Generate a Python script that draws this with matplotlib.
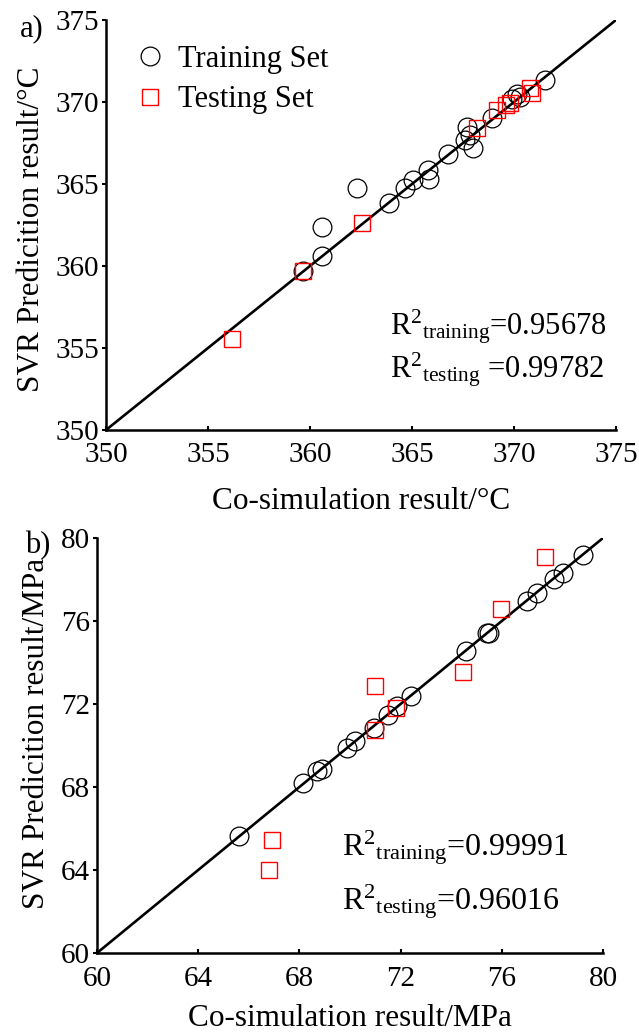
import matplotlib
matplotlib.use("Agg")
from matplotlib import pyplot as plt

plt.rcParams['font.family'] = ['Liberation Serif', 'DejaVu Serif']
plt.rcParams['mathtext.fontset'] = 'custom'
plt.rcParams['mathtext.rm'] = 'Liberation Serif'
plt.rcParams['mathtext.it'] = 'Liberation Serif:italic'

# a) temperature, training set
temp_train_x = [359.64, 360.59, 360.59, 362.29, 363.85, 364.66, 365.07, 365.80, 365.85, 366.75,
                367.68, 367.60, 367.97, 367.84, 368.90, 369.90, 370.13, 370.30, 371.52]
temp_train_y = [359.71, 360.61, 362.40, 364.74, 363.82, 364.74, 365.24, 365.85, 365.28, 366.80,
                368.50, 367.68, 367.17, 367.99, 369.00, 370.20, 370.50, 370.30, 371.34]
# a) temperature, testing set
temp_test_x = [356.19, 359.67, 362.53, 368.20, 369.15, 369.60, 369.80, 370.80, 370.90]
temp_test_y = [355.57, 359.70, 362.60, 368.40, 369.50, 369.80, 369.95, 370.85, 370.55]

# b) stress, training set
stress_train_x = [65.6, 68.16, 68.7, 68.9, 69.9, 70.2, 70.95, 71.5, 71.84, 72.4,
                  74.6, 75.4, 75.5, 77.0, 77.4, 78.05, 78.4, 79.2]
stress_train_y = [65.62, 68.2, 68.76, 68.87, 69.9, 70.2, 70.84, 71.49, 71.9, 72.37,
                  74.54, 75.4, 75.42, 76.95, 77.35, 78.02, 78.3, 79.16]
# b) stress, testing set
stress_test_x = [66.93, 66.8, 71.0, 71.8, 70.97, 74.46, 75.95, 77.7]
stress_test_y = [65.43, 63.98, 72.88, 71.8, 70.76, 73.53, 76.58, 79.1]

temp_ticks = [350, 355, 360, 365, 370, 375]
stress_ticks = [60, 64, 68, 72, 76, 80]

W, H = 639, 1033
fig = plt.figure(figsize=(W / 100, H / 100), dpi=100)


def px_axes(left, right, top, bottom):
    return fig.add_axes([left / W, 1 - bottom / H, (right - left) / W, (bottom - top) / H])


def style(ax, ticks, xpad):
    lo, hi = ticks[0], ticks[-1]
    ax.plot([lo, hi], [lo, hi], color='black', lw=1.9, zorder=1)
    ax.set_xlim(lo, hi)
    ax.set_ylim(lo, hi)
    ax.set_xticks(ticks)
    ax.set_yticks(ticks)
    for s in ['top', 'right']:
        ax.spines[s].set_visible(False)
    for s in ['left', 'bottom']:
        ax.spines[s].set_linewidth(1.8)
    ax.tick_params(axis='x', direction='in', length=3, width=1.5, labelsize=21, pad=xpad)
    ax.tick_params(axis='y', direction='out', length=3, width=1.5, labelsize=21, pad=2)
    for lab in ax.get_xticklabels() + ax.get_yticklabels():
        lab.set_clip_on(False)


circle = dict(marker='o', ms=13.5, mfc='none', mec='black', mew=0.9, ls='none')
square = dict(marker='s', ms=12, mfc='none', mec='red', mew=1.0, ls='none')

# ---- a) ----
ax1 = px_axes(106, 616, 20, 430)
style(ax1, temp_ticks, 9)
ax1.plot(temp_train_x, temp_train_y, label='Training Set', zorder=2, **circle)
ax1.plot(temp_test_x, temp_test_y, label='Testing Set', zorder=3, **square)
ax1.legend(loc='upper left', bbox_to_anchor=(0.056, 0.94), frameon=False, fontsize=22,
           borderpad=0, borderaxespad=0, handlelength=1.0, handletextpad=0.42,
           labelspacing=0.38, numpoints=1)
ax1.set_xlabel('Co-simulation result/°C', fontsize=22.5)
ax1.set_ylabel('SVR Predicition result/°C', fontsize=22.5)
ax1.xaxis.set_label_coords(0.5, -0.14)
ax1.yaxis.set_label_coords(-0.118, 0.49)
ax1.text(0.557, 0.232, r'R$^{2}$$_{\mathrm{training}}$=0.95678', transform=ax1.transAxes,
         fontsize=22, va='baseline')
ax1.text(0.557, 0.127, r'R$^{2}$$_{\mathrm{testing}}$ =0.99782', transform=ax1.transAxes,
         fontsize=22, va='baseline')
fig.text(20 / W, 1 - 36 / H, 'a)', fontsize=22, va='baseline')

# ---- b) ----
ax2 = px_axes(97, 603, 538, 953)
style(ax2, stress_ticks, 9)
ax2.plot(stress_train_x, stress_train_y, zorder=2, **circle)
ax2.plot(stress_test_x, stress_test_y, zorder=3, **square)
ax2.set_xlabel('Co-simulation result/MPa', fontsize=22.5)
ax2.set_ylabel('SVR Predicition result/MPa', fontsize=22.5)
ax2.xaxis.set_label_coords(0.5, -0.124)
ax2.yaxis.set_label_coords(-0.09, 0.53)
ax2.text(0.484, 0.236, r'R$^{2}$$_{\mathrm{training}}$=0.99991', transform=ax2.transAxes,
         fontsize=23, va='baseline')
ax2.text(0.484, 0.104, r'R$^{2}$$_{\mathrm{testing}}$=0.96016', transform=ax2.transAxes,
         fontsize=23, va='baseline')
fig.text(25 / W, 1 - 553 / H, 'b)', fontsize=22, va='baseline')

fig.savefig('out.png', dpi=100)
